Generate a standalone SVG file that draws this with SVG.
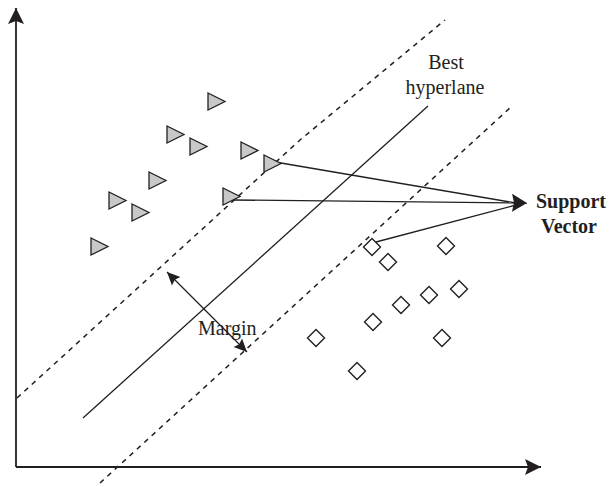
<svg xmlns="http://www.w3.org/2000/svg" xmlns:xlink="http://www.w3.org/1999/xlink" width="609" height="487" viewBox="0 0 609 487">
  <style>
    .axis { stroke: #231f20; stroke-width: 1.8; fill: none; }
    .dash { stroke: #231f20; stroke-width: 1.5; fill: none; stroke-dasharray: 5 5; }
    .line { stroke: #231f20; stroke-width: 1.3; fill: none; }
    .tri { fill: #c8c8c8; stroke: #231f20; stroke-width: 1.3; stroke-linejoin: miter; }
    .dia { fill: #ffffff; stroke: #231f20; stroke-width: 1.4; }
    .lbl { font-family: "Liberation Serif", "Times New Roman", serif; font-size: 20px; fill: #231f20; }
    .bold { font-weight: bold; }
  </style>
  <defs>
    <marker id="axhead" markerUnits="userSpaceOnUse" markerWidth="18" markerHeight="18" viewBox="0 -9 18 18" refX="16" refY="0" orient="auto">
      <path d="M0,-8 L16,0 L0,8 L3,0 Z" fill="#231f20"/>
    </marker>
    <marker id="bighead" markerUnits="userSpaceOnUse" markerWidth="16" markerHeight="20" viewBox="0 -10 16 20" refX="15" refY="0" orient="auto">
      <path d="M0,-9 L15,0 L0,9 L2,0 Z" fill="#231f20"/>
    </marker>
    <marker id="smallhead" markerUnits="userSpaceOnUse" markerWidth="14" markerHeight="14" viewBox="0 -7 14 14" refX="13" refY="0" orient="auto-start-reverse">
      <path d="M0,-6 L13,0 L0,6 L2,0 Z" fill="#231f20"/>
    </marker>
    <path id="tri" class="tri" d="M0,0 L17,8.5 L0,17 Z"/>
    <path id="dia" class="dia" d="M0,-8.5 L8.5,0 L0,8.5 L-8.5,0 Z"/>
  </defs>

  <g id="axes">
    <line class="axis" x1="16" y1="467" x2="16" y2="8" marker-end="url(#axhead)"/>
    <line class="axis" x1="16" y1="467" x2="541" y2="467" marker-end="url(#axhead)"/>
  </g>

  <g id="connectors">
    <path id="upper-margin" class="dash" d="M17,398 L300,140 L445,20"/>
    <line id="hyperplane" class="line" x1="83" y1="418" x2="428" y2="106"/>
    <line id="lower-margin" class="dash" x1="100" y1="483" x2="511" y2="107"/>
    <line id="margin-arrow" class="line" x1="167" y1="272" x2="247" y2="352" marker-start="url(#smallhead)" marker-end="url(#smallhead)"/>
    <line class="line" x1="275" y1="162" x2="516" y2="203"/>
    <line class="line" x1="232" y1="200" x2="527" y2="203" marker-end="url(#bighead)"/>
    <line class="line" x1="376" y1="242" x2="516" y2="205"/>
  </g>

  <g id="class-a">
    <g id="tri1"><use href="#tri" x="208" y="93"/></g>
    <g id="tri2"><use href="#tri" x="167" y="126"/></g>
    <g id="tri3"><use href="#tri" x="190" y="138"/></g>
    <g id="tri4"><use href="#tri" x="241" y="142"/></g>
    <g id="tri5"><use href="#tri" x="264" y="155"/></g>
    <g id="tri6"><use href="#tri" x="149" y="172"/></g>
    <g id="tri7"><use href="#tri" x="109" y="192"/></g>
    <g id="tri8"><use href="#tri" x="132" y="204"/></g>
    <g id="tri9"><use href="#tri" x="223" y="188"/></g>
    <g id="tri10"><use href="#tri" x="91" y="238"/></g>
  </g>

  <g id="class-b">
    <g id="dia1"><use href="#dia" x="372" y="247"/></g>
    <g id="dia2"><use href="#dia" x="446" y="246"/></g>
    <g id="dia3"><use href="#dia" x="388" y="262"/></g>
    <g id="dia4"><use href="#dia" x="459" y="289"/></g>
    <g id="dia5"><use href="#dia" x="429" y="295"/></g>
    <g id="dia6"><use href="#dia" x="401" y="305"/></g>
    <g id="dia7"><use href="#dia" x="373" y="322"/></g>
    <g id="dia8"><use href="#dia" x="316" y="338"/></g>
    <g id="dia9"><use href="#dia" x="442" y="338"/></g>
    <g id="dia10"><use href="#dia" x="357" y="371"/></g>
  </g>

  <g id="label-hyperplane">
    <text class="lbl" x="446" y="69" text-anchor="middle">Best</text>
    <text class="lbl" x="445" y="94" text-anchor="middle">hyperlane</text>
  </g>
  <g id="label-margin">
    <text class="lbl" x="198" y="335">Margin</text>
  </g>
  <g id="label-support">
    <text class="lbl bold" x="571" y="208" text-anchor="middle">Support</text>
    <text class="lbl bold" x="569" y="233" text-anchor="middle">Vector</text>
  </g>
</svg>
